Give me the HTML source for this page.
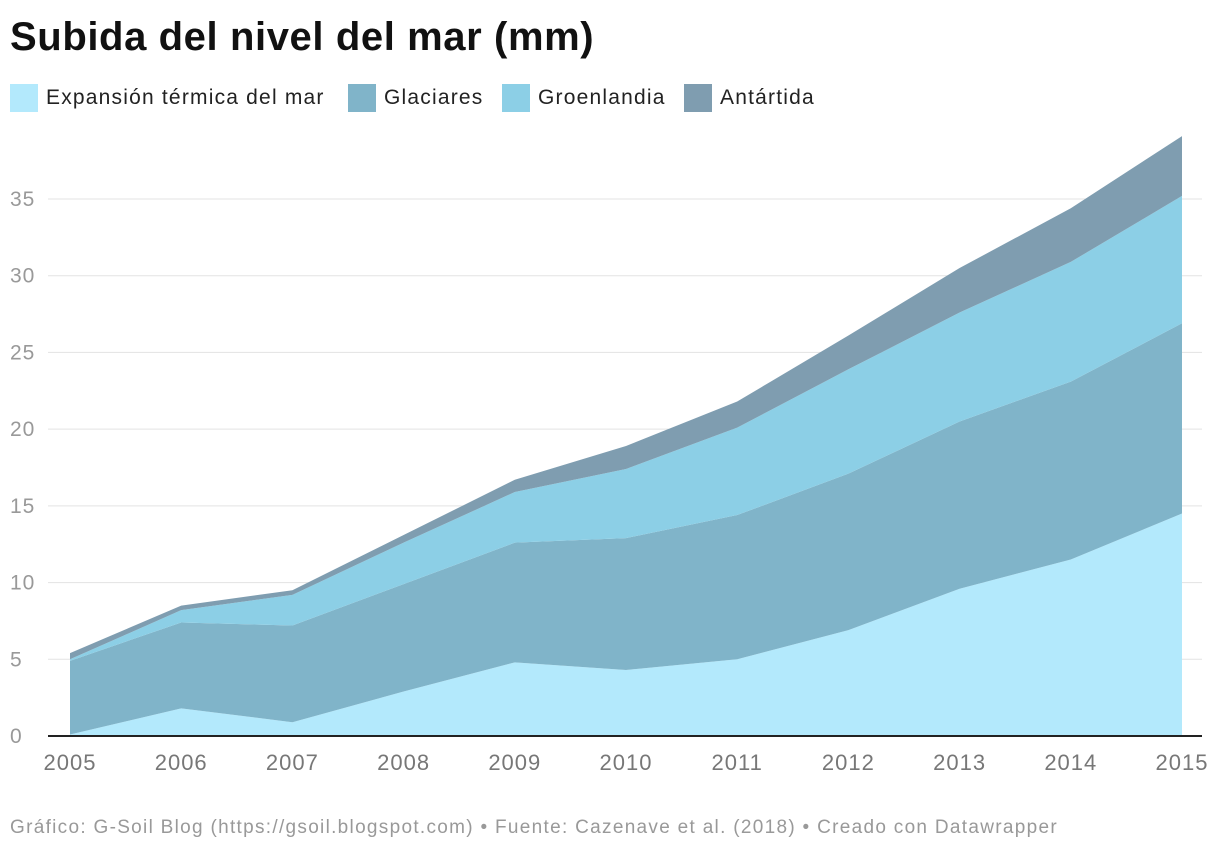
<!DOCTYPE html>
<html><head><meta charset="utf-8"><style>
body{margin:0;background:#fff;font-family:"Liberation Sans",sans-serif;}
#wrap{position:relative;width:1220px;height:852px;overflow:hidden}
h1{position:absolute;left:10px;top:15px;margin:0;font-size:40px;font-weight:bold;color:#111;letter-spacing:0.6px}
.leg{position:absolute;top:84px;display:flex;align-items:center;font-size:21px;color:#222;letter-spacing:1.2px}
.sw{width:28px;height:28px;margin-right:8px}
#foot{position:absolute;left:10px;top:817px;font-size:19px;color:#999;letter-spacing:1.3px}
</style></head><body>
<div id="wrap">
<h1>Subida del nivel del mar (mm)</h1>
<div class="leg" style="left:10px"><div class="sw" style="background:#b3e9fc"></div>Expansión térmica del mar</div>
<div class="leg" style="left:348px"><div class="sw" style="background:#80b4c9"></div>Glaciares</div>
<div class="leg" style="left:502px"><div class="sw" style="background:#8ccfe6"></div>Groenlandia</div>
<div class="leg" style="left:684px"><div class="sw" style="background:#7f9db0"></div>Antártida</div>
<svg id="chart" width="1220" height="852" style="position:absolute;left:0;top:0"></svg>
<div id="foot">Gráfico: G-Soil Blog (https://gsoil.blogspot.com) • Fuente: Cazenave et al. (2018) • Creado con Datawrapper</div>
</div>
<script>
const years=[2005,2006,2007,2008,2009,2010,2011,2012,2013,2014,2015];
const thermal=[0.1,1.8,0.9,2.9,4.8,4.3,5.0,6.9,9.6,11.5,14.5];
const glaciers=[4.8,5.6,6.3,7.0,7.8,8.6,9.4,10.2,10.9,11.6,12.4];
const greenland=[0.1,0.8,2.0,2.7,3.3,4.5,5.7,6.8,7.1,7.8,8.3];
const antarctica=[0.4,0.3,0.3,0.5,0.8,1.5,1.7,2.2,2.9,3.5,3.9];
const yTicks=[0,5,10,15,20,25,30,35];
const NS="http://www.w3.org/2000/svg";
const svg=document.getElementById('chart');
const x=v=>70+(v-2005)*111.2;
const y=v=>736-v*15.343;
function mk(t,a){const e=document.createElementNS(NS,t);for(const k in a)e.setAttribute(k,a[k]);svg.appendChild(e);return e;}
yTicks.forEach(t=>{
  if(t>0){const l=mk('line',{x1:48,x2:1202,y1:y(t),y2:y(t),stroke:'#e3e3e3','stroke-width':1});
  
  }
  const tx=mk('text',{x:10,y:y(t)+7,'font-size':21,fill:'#999','letter-spacing':1,'font-family':'Liberation Sans, sans-serif'});
  tx.textContent=t;
  
  
});
const series=[[thermal,'#b3e9fc','area-thermal'],[glaciers,'#80b4c9','area-glaciers'],[greenland,'#8ccfe6','area-greenland'],[antarctica,'#7f9db0','area-antarctica']];
let base=years.map(()=>0);
series.forEach(([vals,col,name])=>{
  const top=base.map((b,i)=>b+vals[i]);
  let d='M'+years.map((yr,i)=>x(yr)+','+y(top[i])).join(' L');
  for(let i=years.length-1;i>=0;i--)d+=' L'+x(years[i])+','+y(base[i]);
  const p=mk('path',{d:d+'Z',fill:col});
  
  
  base=top;
});
const ax=mk('line',{x1:48,x2:1202,y1:736,y2:736,stroke:'#222','stroke-width':2});


years.forEach(yr=>{
  const tx=mk('text',{x:x(yr),y:770,'font-size':22,fill:'#777','letter-spacing':1,'text-anchor':'middle','font-family':'Liberation Sans, sans-serif'});
  tx.textContent=yr;
  
  
});
</script>
</body></html>
